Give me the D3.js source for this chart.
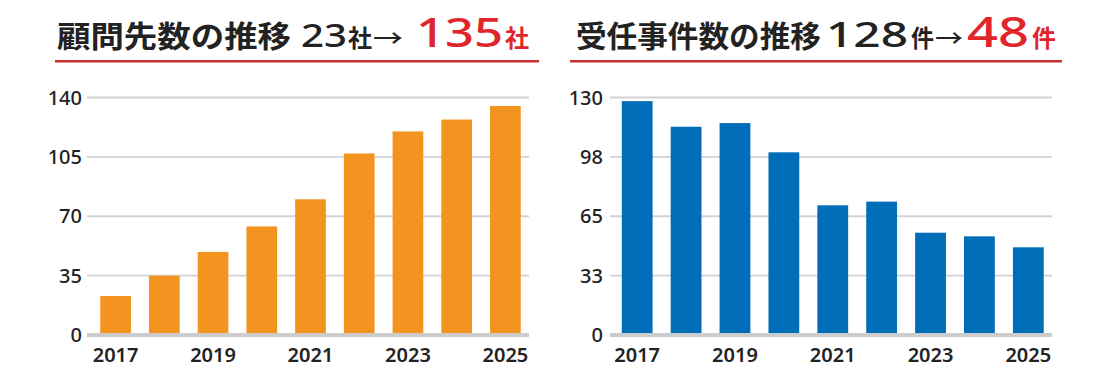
<!DOCTYPE html>
<html>
<head>
<meta charset="utf-8">
<script src="https://cdn.jsdelivr.net/npm/d3@7"></script>
<style>
  html, body { margin: 0; padding: 0; background: #fff; }
  svg { display: block; }
</style>
</head>
<body>
<svg id="chart" width="1117" height="378"></svg>
<script>
// ---- data ----
const years = ["2017", "2018", "2019", "2020", "2021", "2022", "2023", "2024", "2025"];
const clientCounts = [23, 35, 49, 64, 80, 107, 120, 127, 135];
const caseCounts = [128, 114, 116, 100, 71, 73, 56, 54, 48];
const clientYTicks = [0, 35, 70, 105, 140];
const clientYTickLabels = ["0", "35", "70", "105", "140"];
const caseYTicks = [0, 32.5, 65, 97.5, 130];
const caseYTickLabels = ["0", "33", "65", "98", "130"];
const xTickYears = ["2017", "2019", "2021", "2023", "2025"];

const leftTitle = [
  { text: "顧問先数の推移", x: 57, len: 234, size: 30, color: "#222", w: 600, num: false },
  { text: "23", x: 301, len: 46, size: 33, color: "#222", w: 500, num: true },
  { text: "社", x: 348, len: 24, size: 24, color: "#222", w: 600, num: false },
  { text: "→", x: 373, len: 30, size: 24, color: "#222", w: 500, num: false },
  { text: "135", x: 416, len: 87, size: 39, color: "#e0262b", w: 500, num: true },
  { text: "社", x: 505, len: 24, size: 24, color: "#e0262b", w: 600, num: false }
];
const rightTitle = [
  { text: "受任事件数の推移", x: 576, len: 245, size: 30, color: "#222", w: 600, num: false },
  { text: "128", x: 826, len: 82, size: 35, color: "#222", w: 500, num: true },
  { text: "件", x: 911, len: 23, size: 24, color: "#222", w: 600, num: false },
  { text: "→", x: 935, len: 28, size: 24, color: "#222", w: 500, num: false },
  { text: "48", x: 967, len: 62, size: 41, color: "#e0262b", w: 500, num: true },
  { text: "件", x: 1032, len: 24, size: 24, color: "#e0262b", w: 600, num: false }
];

const svg = d3.select("#chart");
const FONT_CJK = "'Noto Sans CJK JP', 'Noto Sans', sans-serif";
const FONT_NUM = "'Noto Sans', 'DejaVu Sans', sans-serif";

function drawTitle(parts, lineX1, lineX2) {
  const g = svg.append("g");
  g.selectAll("text").data(parts).join("text")
    .attr("x", d => d.x)
    .attr("y", 47)
    .attr("font-family", d => d.num ? FONT_NUM : FONT_CJK)
    .attr("font-weight", d => d.w)
    .attr("font-size", d => d.size)
    .attr("fill", d => d.color)
    .attr("textLength", d => d.len)
    .attr("lengthAdjust", "spacingAndGlyphs")
    .text(d => d.text);
  g.append("line")
    .attr("x1", lineX1).attr("x2", lineX2)
    .attr("y1", 61.3).attr("y2", 61.3)
    .attr("stroke", "#c8302e").attr("stroke-width", 2.5);
}

function drawChart(cfg) {
  const g = svg.append("g");
  const x = d3.scaleBand().domain(years).range(cfg.xRange)
    .paddingInner(0.37).paddingOuter(0.19);
  const y = d3.scaleLinear().domain([0, cfg.max]).range([335, 97.5]);

  // gridlines
  g.append("g").selectAll("line").data(cfg.ticks.filter(t => t > 0)).join("line")
    .attr("x1", cfg.gridX[0]).attr("x2", cfg.gridX[1])
    .attr("y1", d => y(d)).attr("y2", d => y(d))
    .attr("stroke", "#d2d2d2").attr("stroke-width", 1.8);

  // bars
  g.append("g").selectAll("rect").data(cfg.values).join("rect")
    .attr("x", (d, i) => x(years[i]))
    .attr("y", d => y(d))
    .attr("width", x.bandwidth())
    .attr("height", d => y(0) - y(d))
    .attr("fill", cfg.color);

  // baseline
  g.append("line")
    .attr("x1", cfg.gridX[0]).attr("x2", cfg.gridX[1])
    .attr("y1", y(0)).attr("y2", y(0))
    .attr("stroke", "#cccccc").attr("stroke-width", 4);

  // y labels
  g.append("g").selectAll("text").data(cfg.ticks).join("text")
    .attr("x", cfg.labelX)
    .attr("y", d => y(d))
    .attr("dy", "0.36em")
    .attr("text-anchor", "end")
    .attr("font-family", FONT_NUM)
    .attr("font-weight", 500)
    .attr("font-size", 20)
    .attr("fill", "#222")
    .text((d, i) => cfg.tickLabels[i]);

  // x labels
  g.append("g").selectAll("text").data(xTickYears).join("text")
    .attr("x", d => x(d) + x.bandwidth() / 2)
    .attr("y", 361.5)
    .attr("text-anchor", "middle")
    .attr("font-family", FONT_NUM)
    .attr("font-weight", 600)
    .attr("font-size", 20)
    .attr("fill", "#222")
    .text(d => d);
}

drawTitle(leftTitle, 55, 539);
drawTitle(rightTitle, 570, 1062);

drawChart({
  values: clientCounts, max: 140, ticks: clientYTicks, tickLabels: clientYTickLabels,
  xRange: [91, 530], gridX: [87, 529], labelX: 82, color: "#f39420"
});
drawChart({
  values: caseCounts, max: 130, ticks: caseYTicks, tickLabels: caseYTickLabels,
  xRange: [612.5, 1053], gridX: [610, 1052], labelX: 603, color: "#006db8"
});
</script>
</body>
</html>
